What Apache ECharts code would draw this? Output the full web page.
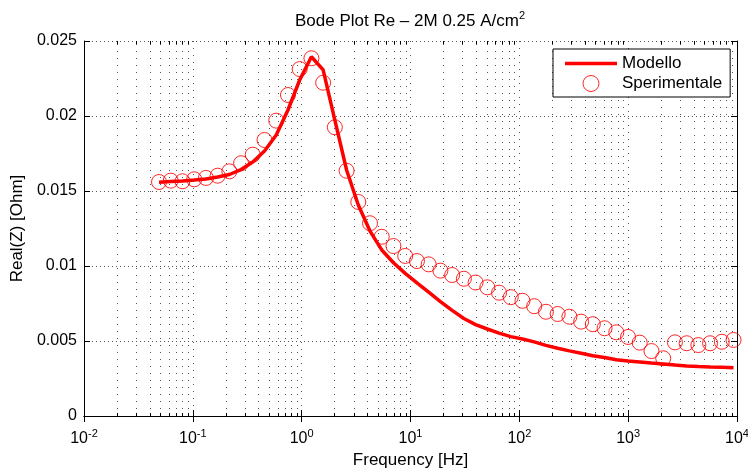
<!DOCTYPE html>
<html>
<head>
<meta charset="utf-8">
<script src="https://cdn.jsdelivr.net/npm/echarts@6/dist/echarts.min.js"></script>
<style>
html,body{margin:0;padding:0;background:#fff;}
#chart{width:748px;height:468px;}
</style>
</head>
<body>
<div id="chart"></div>
<script>
// ---- data ----
const frequencies = [0.0489, 0.0627, 0.0803, 0.1029, 0.1319, 0.169, 0.2166, 0.2775, 0.3556, 0.4557,
  0.584, 0.7483, 0.9589, 1.229, 1.575, 2.018, 2.586, 3.313, 4.246, 5.441,
  6.972, 8.94, 11.46, 14.69, 18.83, 24.13, 30.92, 39.63, 50.79, 65.09,
  83.42, 106.9, 137.0, 175.6, 225.0, 288.4, 369.6, 473.6, 607.0, 778.0,
  996.8, 1277, 1637, 2098, 2689, 3446, 4416, 5659, 7253, 9290];

const modello = [0.01558, 0.01563, 0.01567, 0.01573, 0.01580, 0.01593, 0.01610, 0.01643, 0.01693, 0.01767,
  0.01873, 0.02040, 0.02240, 0.02395, 0.02307, 0.01973, 0.01640, 0.01407, 0.01233, 0.01107,
  0.01022, 0.00951, 0.00888, 0.00826, 0.00763, 0.00704, 0.00650, 0.00609, 0.00580, 0.00553,
  0.00529, 0.00513, 0.00494, 0.00471, 0.00452, 0.00434, 0.00418, 0.00402, 0.00390, 0.00375,
  0.00367, 0.00360, 0.00353, 0.00347, 0.00340, 0.00334, 0.00330, 0.00327, 0.00325, 0.00322];

const sperimentale = [0.01560, 0.01569, 0.01565, 0.01578, 0.01587, 0.01602, 0.01631, 0.01685, 0.01742, 0.01840,
  0.01969, 0.02140, 0.02313, 0.02385, 0.02222, 0.01925, 0.01635, 0.01427, 0.01285, 0.01195,
  0.01133, 0.01067, 0.01033, 0.01011, 0.00969, 0.00940, 0.00915, 0.00890, 0.00858, 0.00822,
  0.00792, 0.00768, 0.00732, 0.00695, 0.00680, 0.00662, 0.00629, 0.00612, 0.00585, 0.00558,
  0.00527, 0.00489, 0.00433, 0.00385, 0.00491, 0.00485, 0.00473, 0.00485, 0.00495, 0.00507];

const xTicks = [0.01, 0.1, 1, 10, 100, 1000, 10000];
const yTicks = [0, 0.005, 0.01, 0.015, 0.02, 0.025];
const minorMultipliers = [2, 3, 4, 5, 6, 7, 8, 9];

const seriesNames = ['Modello', 'Sperimentale'];
const titleText = 'Bode Plot Re \u2013 2M 0.25 A/cm';
const titleSup = '2';
const xName = 'Frequency [Hz]';
const yName = 'Real(Z) [Ohm]';

// ---- chart ----
const FONT = "'Liberation Sans', Arial, Helvetica, sans-serif";
const RED = '#ff0000';
const X_MIN = xTicks[0], X_MAX = xTicks[xTicks.length - 1];
const Y_MIN = yTicks[0], Y_MAX = yTicks[yTicks.length - 1];

const minorFreqs = [];
for (let d = 0; d < xTicks.length - 1; d++) {
  minorMultipliers.forEach(m => minorFreqs.push([xTicks[d] * m, 0]));
}

const chart = echarts.init(document.getElementById('chart'), null, {renderer: 'canvas'});

function expLabel(v) {
  const e = Math.round(Math.log10(v));
  return '{b|10}{s|' + e + '}';
}

const richX = {
  b: {fontSize: 16, fontFamily: FONT, color: '#000'},
  s: {fontSize: 11, fontFamily: FONT, color: '#000', padding: [0, 0, 11, 0]}
};

function renderMinor(params, api) {
  const f = api.value(0);
  const top = api.coord([f, Y_MAX]);
  const bot = api.coord([f, Y_MIN]);
  const x = Math.round(top[0]) + 0.5;
  return {
    type: 'group',
    children: [
      {type: 'line', shape: {x1: x, y1: bot[1], x2: x, y2: top[1]},
        style: {stroke: '#555', lineWidth: 1, lineDash: [1, 6]}, silent: true},
      {type: 'line', shape: {x1: x, y1: bot[1], x2: x, y2: bot[1] - 3},
        style: {stroke: '#000', lineWidth: 1}, silent: true},
      {type: 'line', shape: {x1: x, y1: top[1], x2: x, y2: top[1] + 3},
        style: {stroke: '#000', lineWidth: 1}, silent: true}
    ]
  };
}

const axisLineStyle = {show: true, lineStyle: {color: '#000', width: 1}};

const option = {
  animation: false,
  backgroundColor: '#fff',
  textStyle: {fontFamily: FONT},
  title: {
    text: titleText + '{s|' + titleSup + '}',
    left: 410,
    top: 10,
    padding: 0,
    textAlign: 'center',
    textStyle: {
      fontSize: 17, fontWeight: 'normal', color: '#000', fontFamily: FONT,
      rich: {s: {fontSize: 11, fontFamily: FONT, color: '#000', padding: [0, 0, 11, 0]}}
    }
  },
  legend: {
    data: [
      {name: seriesNames[0], icon: 'path://M0,0H52V3.5H0Z', itemStyle: {color: RED, borderWidth: 0}},
      {name: seriesNames[1], icon: 'circle', itemStyle: {color: 'rgba(0,0,0,0)', borderColor: RED, borderWidth: 1}}
    ],
    symbolKeepAspect: true,
    orient: 'vertical',
    left: 553,
    top: 49,
    itemWidth: 52,
    itemHeight: 16,
    itemGap: 3,
    padding: [6, 8, 5, 12],
    borderColor: '#000',
    borderWidth: 1,
    backgroundColor: '#fff',
    selectedMode: false,
    textStyle: {fontSize: 17, color: '#000', fontFamily: FONT}
  },
  grid: {left: 84, right: 11, top: 41, bottom: 52, show: false, containLabel: false, outerBoundsMode: 'none'},
  xAxis: [
    {
      type: 'log', logBase: 10, min: X_MIN, max: X_MAX, splitNumber: 6,
      position: 'bottom',
      axisLine: axisLineStyle,
      axisTick: {show: true, inside: true, length: 6, lineStyle: {color: '#000'}},
      axisLabel: {show: true, margin: 12, formatter: expLabel, rich: richX, color: '#000'},
      splitLine: {show: true, lineStyle: {color: '#555', width: 1, type: [1, 6]}},
      name: xName, nameLocation: 'middle', nameGap: 30,
      nameTextStyle: {fontSize: 17, color: '#000', fontFamily: FONT}
    },
    {
      type: 'log', logBase: 10, min: X_MIN, max: X_MAX, splitNumber: 6,
      position: 'top',
      axisLine: axisLineStyle,
      axisTick: {show: true, inside: true, length: 6, lineStyle: {color: '#000'}},
      axisLabel: {show: false},
      splitLine: {show: false}
    }
  ],
  yAxis: [
    {
      type: 'value', min: Y_MIN, max: Y_MAX, interval: 0.005,
      position: 'left',
      axisLine: axisLineStyle,
      axisTick: {show: true, inside: true, length: 6, lineStyle: {color: '#000'}},
      axisLabel: {show: true, margin: 7, color: '#000', fontSize: 16, fontFamily: FONT,
        formatter: v => String(yTicks[Math.round(v / 0.005)])},
      splitLine: {show: true, lineStyle: {color: '#555', width: 1, type: [1, 3]}},
      name: yName, nameLocation: 'middle', nameGap: 52, nameRotate: 90,
      nameTextStyle: {fontSize: 17, color: '#000', fontFamily: FONT}
    },
    {
      type: 'value', min: Y_MIN, max: Y_MAX, interval: 0.005,
      position: 'right',
      axisLine: axisLineStyle,
      axisTick: {show: true, inside: true, length: 6, lineStyle: {color: '#000'}},
      axisLabel: {show: false},
      splitLine: {show: false}
    }
  ],
  series: [
    {
      name: 'minor-grid',
      type: 'custom',
      coordinateSystem: 'cartesian2d',
      xAxisIndex: 0, yAxisIndex: 0,
      renderItem: renderMinor,
      data: minorFreqs,
      encode: {x: 0, y: 1},
      silent: true,
      z: 1
    },
    {
      name: seriesNames[0],
      type: 'line',
      xAxisIndex: 0, yAxisIndex: 0,
      data: frequencies.map((f, i) => [f, modello[i]]),
      symbol: 'none',
      lineStyle: {color: RED, width: 3.5},
      itemStyle: {color: RED},
      z: 3
    },
    {
      name: seriesNames[1],
      type: 'scatter',
      xAxisIndex: 0, yAxisIndex: 0,
      data: frequencies.map((f, i) => [f, sperimentale[i]]),
      symbol: 'circle',
      symbolSize: 15,
      itemStyle: {color: 'rgba(0,0,0,0)', borderColor: RED, borderWidth: 1, opacity: 0.85},
      z: 4
    }
  ]
};

chart.setOption(option);
</script>
</body>
</html>
